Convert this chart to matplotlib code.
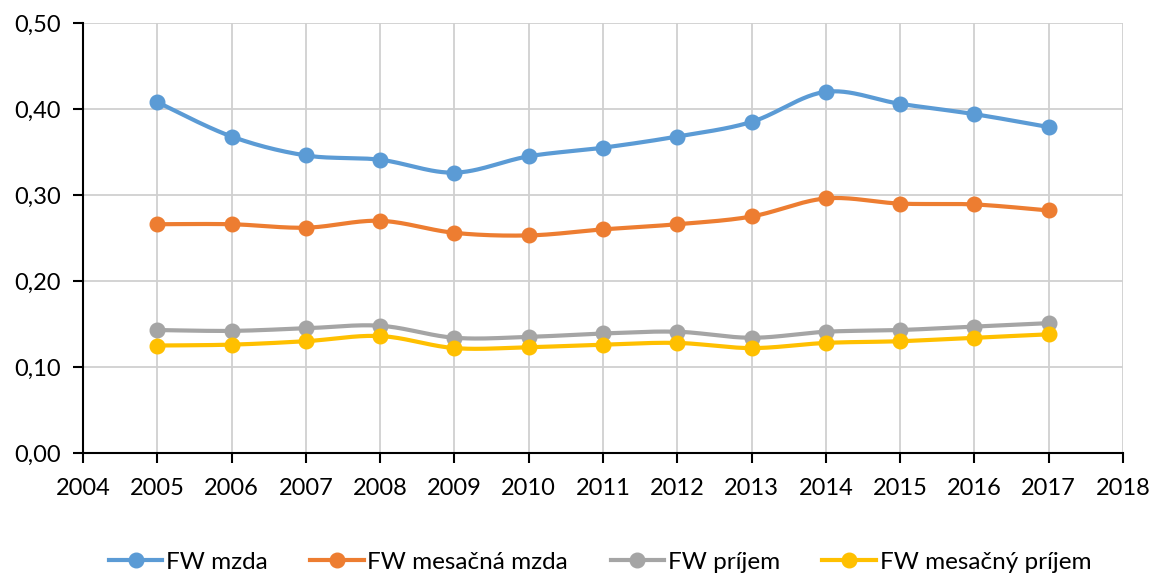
import numpy as np
import matplotlib
matplotlib.use("Agg")
import matplotlib.pyplot as plt
from matplotlib.lines import Line2D

plt.rcParams['font.family'] = ['Lato', 'DejaVu Sans']

years = [2005, 2006, 2007, 2008, 2009, 2010, 2011, 2012, 2013, 2014, 2015, 2016, 2017]
fw_mzda = [0.408, 0.368, 0.346, 0.341, 0.326, 0.345, 0.355, 0.368, 0.385, 0.420, 0.406, 0.394, 0.379]
fw_mes_mzda = [0.266, 0.266, 0.262, 0.270, 0.256, 0.253, 0.260, 0.266, 0.275, 0.296, 0.290, 0.289, 0.282]
fw_prijem = [0.143, 0.142, 0.145, 0.148, 0.134, 0.135, 0.139, 0.141, 0.134, 0.141, 0.143, 0.147, 0.151]
fw_mes_prijem = [0.125, 0.126, 0.130, 0.136, 0.122, 0.123, 0.126, 0.128, 0.122, 0.128, 0.130, 0.134, 0.138]

labels = ['FW mzda', 'FW mesačná mzda', 'FW príjem', 'FW mesačný príjem']
colors = ['#5B9BD5', '#ED7D31', '#A5A5A5', '#FFC000']


# smooth curve through the points (like excel's smoothed line)
def smooth(x, y, n=30):
    x = np.asarray(x, float)
    y = np.asarray(y, float)
    px = np.concatenate([[x[0]], x, [x[-1]]])
    py = np.concatenate([[y[0]], y, [y[-1]]])
    xs, ys = [], []
    t = np.linspace(0, 1, n)
    for i in range(1, len(px) - 2):
        p0, p1, p2, p3 = (np.array([px[j], py[j]]) for j in range(i - 1, i + 3))
        c1 = p1 + (p2 - p0) / 6
        c2 = p2 - (p3 - p1) / 6
        b = ((1 - t) ** 3)[:, None] * p1 + (3 * (1 - t) ** 2 * t)[:, None] * c1 \
            + (3 * (1 - t) * t ** 2)[:, None] * c2 + (t ** 3)[:, None] * p2
        xs.extend(b[:, 0])
        ys.extend(b[:, 1])
    return xs, ys


fig = plt.figure(figsize=(11.54, 5.74), dpi=100)
ax = fig.add_axes([83 / 1154, 1 - 453 / 574, (1123 - 83) / 1154, (453 - 23) / 574])

for vals, c in zip([fw_mzda, fw_mes_mzda, fw_prijem, fw_mes_prijem], colors):
    sx, sy = smooth(years, vals)
    ax.plot(sx, sy, color=c, lw=3, solid_capstyle='round', zorder=3)
    ax.plot(years, vals, 'o', color=c, ms=10.5, zorder=4)

ax.set_xlim(2004, 2018)
ax.set_ylim(0, 0.5)
ax.set_xticks(range(2004, 2019))
ax.set_yticks(np.arange(0, 0.51, 0.1))
ax.set_yticklabels([('%.2f' % v).replace('.', ',') for v in np.arange(0, 0.51, 0.1)])
ax.grid(True, color='#D0D0D0', lw=1.3)
ax.set_axisbelow(True)
for s in ['top', 'right']:
    ax.spines[s].set_visible(False)
ax.spines['left'].set_linewidth(1.5)
ax.spines['bottom'].set_linewidth(1.5)
ax.tick_params(axis='both', labelsize=17, length=7, width=1.5, direction='out')
ax.tick_params(axis='x', pad=11)
ax.tick_params(axis='y', pad=9)

handles = [Line2D([], [], color=c, lw=3, marker='o', ms=10.5) for c in colors]
fig.legend(handles, labels, loc='center', bbox_to_anchor=(600 / 1154, 1 - 562 / 574),
           ncol=4, frameon=False, fontsize=17.5, handlelength=2.2, columnspacing=1.75,
           handletextpad=0.15)

fig.savefig('out.png', dpi=100)
